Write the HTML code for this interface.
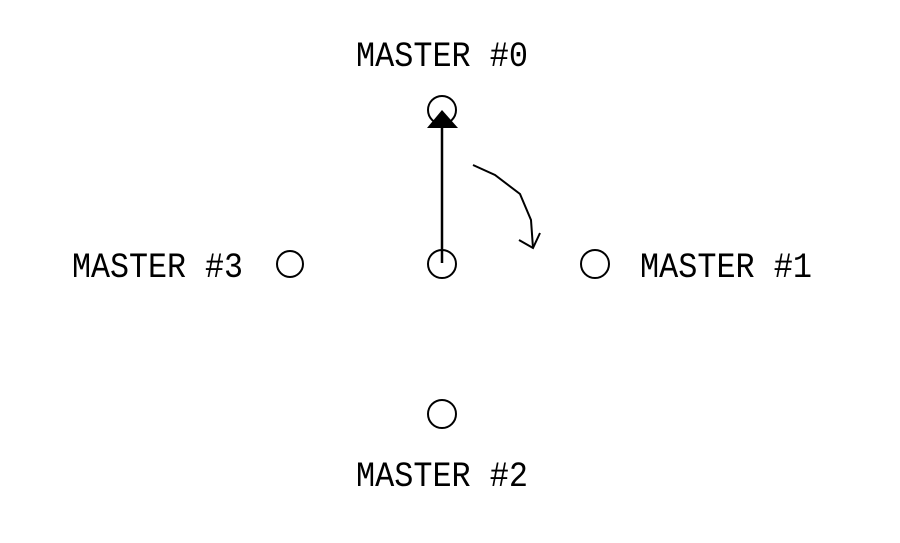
<!DOCTYPE html>
<html><head><meta charset="utf-8"><style>
html,body{margin:0;padding:0;background:#fff;}
text{font-family:"Liberation Mono","DejaVu Sans Mono",monospace;font-size:35px;fill:#000;}
</style></head><body>
<svg width="900" height="538" viewBox="0 0 900 538">
<g fill="none" stroke="#000" stroke-width="2">
<circle cx="442" cy="110" r="14"/>
<circle cx="290" cy="264" r="13"/>
<circle cx="442" cy="264" r="14"/>
<circle cx="595" cy="264" r="14"/>
<circle cx="442" cy="414" r="14"/>
<line x1="442" y1="126" x2="442" y2="263" stroke-width="2.5"/>
<polyline points="473,165 495,175 520,194 531,220 533,248"/>
<polyline points="519,240 533,248 540,233"/>
</g>
<polygon points="442,110 427,128 458,128" fill="#000"/>
<text x="356" y="66" textLength="172" lengthAdjust="spacingAndGlyphs">MASTER #0</text>
<text x="72" y="277" textLength="171" lengthAdjust="spacingAndGlyphs">MASTER #3</text>
<text x="640" y="277" textLength="172" lengthAdjust="spacingAndGlyphs">MASTER #1</text>
<text x="356" y="486" textLength="172" lengthAdjust="spacingAndGlyphs">MASTER #2</text>
</svg>
</body></html>
